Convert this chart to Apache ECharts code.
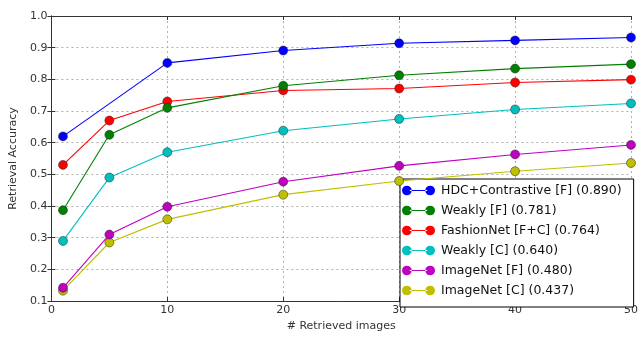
<!DOCTYPE html>
<html>
<head>
<meta charset="utf-8">
<script src="https://cdn.jsdelivr.net/npm/echarts@6/dist/echarts.min.js"></script>
<style>
    html, body { margin: 0; padding: 0; background: #fff; }
    #chart { width: 641px; height: 337px; }
</style>
</head>
<body>
<div id="chart"></div>
<script>
// retrieved images (x)
const retrieved = [1, 5, 10, 20, 30, 40, 50];

const hdcF = [0.620, null, 0.852, 0.891, 0.914, 0.923, 0.932];
const weaklyF = [0.387, 0.625, 0.710, 0.780, 0.813, 0.834, 0.848];
const fashionNetFC = [0.530, 0.670, 0.730, 0.765, 0.771, 0.790, 0.799];
const weaklyC = [0.290, 0.490, 0.570, 0.638, 0.675, 0.705, 0.724];
const imageNetF = [0.142, 0.310, 0.398, 0.477, 0.527, 0.563, 0.593];
const imageNetC = [0.133, 0.285, 0.358, 0.436, 0.479, 0.510, 0.536];

const seriesNames = [
    "HDC+Contrastive [F] (0.890)",
    "Weakly [F] (0.781)",
    "FashionNet [F+C] (0.764)",
    "Weakly [C] (0.640)",
    "ImageNet [F] (0.480)",
    "ImageNet [C] (0.437)"
];
const seriesValues = [hdcF, weaklyF, fashionNetFC, weaklyC, imageNetF, imageNetC];
const colors = ["#0000ff", "#008000", "#ff0000", "#00bfbf", "#bf00bf", "#bfbf00"];

// 图例图标: 两端圆点 + 连线
const legendIcon = "path://M0,5A5,5,0,1,0,10,5A5,5,0,1,0,0,5ZM8,4.4L26,4.4L26,5.6L8,5.6ZM24,5A5,5,0,1,0,34,5A5,5,0,1,0,24,5Z";

const font = "DejaVu Sans";

function buildSeries() {
    return seriesValues.map((vals, i) => ({
        name: seriesNames[i],
        type: "line",
        xAxisIndex: 0,
        yAxisIndex: 0,
        data: retrieved.map((x, j) => vals[j] == null ? null : [x, vals[j]]).filter(d => d),
        symbol: "circle",
        symbolSize: 9,
        color: colors[i],
        lineStyle: { width: 1.1, color: colors[i] },
        itemStyle: { color: colors[i], borderColor: "#222", borderWidth: 0.5 },
        z: 10 - i
    }));
}

const frameAxis = {
    axisLine: { show: true, lineStyle: { color: "#333", width: 1 } },
    axisTick: { show: true, inside: true, length: 4, lineStyle: { color: "#333" } },
    axisLabel: { show: false },
    splitLine: { show: false }
};

const chart = echarts.init(document.getElementById("chart"));
chart.setOption({
    animation: false,
    color: colors,
    grid: { left: 48, right: 6, top: 16, bottom: 29 },
    legend: {
        orient: "vertical",
        left: 400,
        top: 179,
        icon: legendIcon,
        itemWidth: 33,
        itemHeight: 10,
        itemGap: 5,
        padding: [4, 12, 9, 2],
        borderColor: "#000",
        borderWidth: 1,
        borderRadius: 0,
        backgroundColor: "#fff",
        itemStyle: { borderWidth: 0 },
        textStyle: { fontFamily: font, fontSize: 12.5, color: "#111", lineHeight: 15, padding: [0, 0, 0, 1] },
        data: seriesNames
    },
    xAxis: [
        {
            type: "value",
            min: 0,
            max: 50,
            interval: 10,
            name: "# Retrieved images",
            nameLocation: "middle",
            nameGap: 19,
            nameTextStyle: { fontFamily: font, fontSize: 11, color: "#333" },
            axisLine: { show: true, onZero: false, lineStyle: { color: "#333", width: 1 } },
            axisTick: { show: true, inside: true, length: 4, lineStyle: { color: "#333" } },
            axisLabel: { fontFamily: font, fontSize: 11, color: "#333", margin: 4 },
            splitLine: { show: true, lineStyle: { color: "#b0b0b0", type: [2, 3], width: 1 } }
        },
        Object.assign({ type: "value", position: "top", min: 0, max: 50, interval: 10 }, frameAxis)
    ],
    yAxis: [
        {
            type: "value",
            min: 0.1,
            max: 1.0,
            interval: 0.1,
            name: "Retrieval Accuracy",
            nameLocation: "middle",
            nameGap: 27,
            nameTextStyle: { fontFamily: font, fontSize: 11, color: "#333" },
            axisLine: { show: true, onZero: false, lineStyle: { color: "#333", width: 1 } },
            axisTick: { show: true, inside: true, length: 4, lineStyle: { color: "#333" } },
            axisLabel: {
                fontFamily: font, fontSize: 11, color: "#333", margin: 4,
                formatter: v => v.toFixed(1)
            },
            splitLine: { show: true, lineStyle: { color: "#b0b0b0", type: [2, 3], width: 1 } }
        },
        Object.assign({ type: "value", position: "right", min: 0.1, max: 1.0, interval: 0.1 }, frameAxis)
    ],
    series: buildSeries()
});
</script>
</body>
</html>
